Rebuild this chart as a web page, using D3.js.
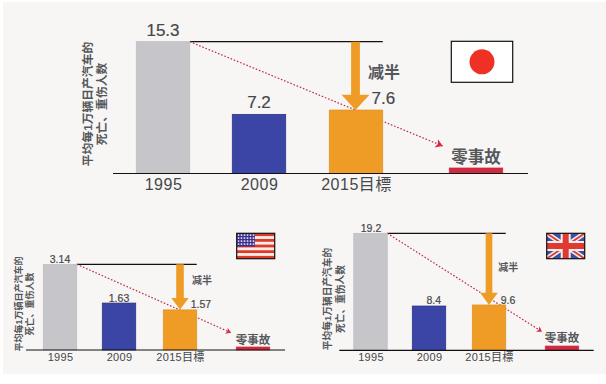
<!DOCTYPE html>
<html>
<head>
<meta charset="utf-8">
<script src="https://cdn.jsdelivr.net/npm/d3@7"></script>
<style>
html,body{margin:0;padding:0;background:#fff;}
svg{display:block;}
text{font-family:"Liberation Sans","Noto Sans CJK SC",sans-serif;}
</style>
</head>
<body>
<div id="chart"></div>
<script>
var categories = ["1995","2009","2015目標","零事故"];

// printed numbers
var jpLabels = ["15.3","7.2","7.6"];
var usLabels = ["3.14","1.63","1.57"];
var ukLabels = ["19.2","8.4","9.6"];

// bar heights (the original bars are not quite to scale)
var jpBars = [15.3,6.87,7.37,0.64];
var usBars = [3.14,1.72,1.47,0.11];
var ukBars = [19.2,7.27,7.44,0.7];

var yTitle1 = "平均每1万辆日产汽车的";
var yTitle2 = "死亡、重伤人数";
var halfText = "减半";

var colors = ["#c6c6ca","#3a45a6","#ef9c26","#d02a40"];
var strokes = ["#bcbcc0","#2a2f80","#e0912a","#d02a40"];
var textColor = "#45474b";
var softText = "#55575b";

var svg = d3.select("#chart").append("svg").attr("width",606).attr("height",384);

// page tint stops short of the left and bottom edges
svg.append("rect").attr("x",3).attr("y",2).attr("width",603).attr("height",372).attr("fill","#f7f6f4");

function drawPanel(p){
    var g = svg.append("g");
    var x = d3.scaleOrdinal().domain(categories).range(p.centers);
    var y = d3.scaleLinear().domain([0,p.bars[0]]).range([p.base,p.top]);
    var barLeft = function(d){return x(d)-p.barW/2;};

    // top reference line
    g.append("line").attr("x1",x(categories[0])+p.barW/2).attr("x2",x(categories[2])+p.barW/2)
        .attr("y1",p.top).attr("y2",p.top).attr("stroke","#111").attr("stroke-width",1.2);

    // dotted trend line, goes behind the bars
    g.append("line").attr("x1",x(categories[0])+p.barW/2).attr("y1",p.top)
        .attr("x2",p.trendEnd[0]).attr("y2",p.trendEnd[1])
        .attr("stroke","#c0284f").attr("stroke-width",1.2).attr("stroke-dasharray","1.6 1.8");
    var ang = Math.atan2(p.trendEnd[1]-p.top,p.trendEnd[0]-(x(categories[0])+p.barW/2))*180/Math.PI;
    var h = p.headSize;
    g.append("path").attr("d","M0,0L"+(-h)+","+(-h*0.65)+"L"+(-h*0.75)+",0L"+(-h)+","+(h*0.65)+"Z")
        .attr("transform","translate("+p.trendEnd[0]+","+p.trendEnd[1]+") rotate("+ang+")")
        .attr("fill","#d62a45");

    g.selectAll("rect.bar").data(categories).enter().append("rect")
        .attr("class","bar")
        .attr("x",barLeft)
        .attr("width",p.barW)
        .attr("y",function(d,i){return y(p.bars[i]);})
        .attr("height",function(d,i){return p.base-y(p.bars[i]);})
        .attr("fill",function(d,i){return colors[i];})
        .attr("stroke",function(d,i){return strokes[i];})
        .attr("stroke-width",0.7);

    // big "half" arrow
    var a = p.arrow;
    var cx = x(categories[2])+a.dx;
    var line = d3.line();
    g.append("path").attr("d",line([[cx-a.shaft/2,p.top],[cx+a.shaft/2,p.top],[cx+a.shaft/2,a.neck],
        [cx+a.head/2,a.neck],[cx,a.tip],[cx-a.head/2,a.neck],[cx-a.shaft/2,a.neck]])+"Z")
        .attr("fill",colors[2]);

    // baseline and tick labels
    g.append("line").attr("x1",p.axis[0]).attr("x2",p.axis[1]).attr("y1",p.base).attr("y2",p.base)
        .attr("stroke","#111").attr("stroke-width",1.2);
    var axis = d3.axisBottom(x).tickValues(categories.slice(0,3)).tickSize(0).tickPadding(p.tickPad);
    var ag = g.append("g").attr("transform","translate(0,"+p.base+")").call(axis);
    ag.select(".domain").remove();
    ag.selectAll("text").style("font-size",p.tickSize+"px").style("font-family",'"Liberation Sans","Noto Sans CJK SC",sans-serif')
        .style("letter-spacing",p.tickSpacing+"px").attr("fill",textColor);

    // value labels
    g.selectAll("text.val").data(p.labels).enter().append("text")
        .attr("class","val")
        .attr("x",function(d,i){return p.valPos[i][0];})
        .attr("y",function(d,i){return p.valPos[i][1];})
        .attr("text-anchor",function(d,i){return i==2?"start":"middle";})
        .attr("font-size",p.valSize).attr("fill",textColor)
        .attr("stroke",textColor).attr("stroke-width",0.2)
        .text(function(d){return d;});

    g.append("text").attr("x",p.halfPos[0]).attr("y",p.halfPos[1]).attr("font-size",p.halfSize)
        .attr("font-weight",700).attr("fill",softText).text(halfText);

    g.append("text").attr("x",x(categories[3])).attr("y",p.zeroY).attr("text-anchor","middle")
        .attr("font-size",p.zeroSize).attr("font-weight",700).attr("fill",softText).text(categories[3]);

    // rotated y title, two lines
    [yTitle1,yTitle2].forEach(function(t,i){
        g.append("text").attr("transform","translate("+p.titleX[i]+","+p.titleY+") rotate(-90)")
            .attr("text-anchor","middle").attr("font-size",p.titleSize).attr("font-weight",700)
            .attr("fill",softText).text(t);
    });
}

function flagBox(b){
    return svg.append("svg").attr("x",b[0]).attr("y",b[1]).attr("width",b[2]).attr("height",b[3])
        .attr("viewBox","0 0 "+b[2]+" "+b[3]);
}
function flagFrame(b){
    svg.append("rect").attr("x",b[0]).attr("y",b[1]).attr("width",b[2]).attr("height",b[3])
        .attr("fill","none").attr("stroke","#111").attr("stroke-width",1.2);
}

function japanFlag(b){
    var f = flagBox(b);
    f.append("rect").attr("width",b[2]).attr("height",b[3]).attr("fill","#fff");
    f.append("circle").attr("cx",b[2]/2).attr("cy",b[3]/2).attr("r",12.5).attr("fill","#ee3124");
    flagFrame(b);
}

function usFlag(b){
    var f = flagBox(b);
    var sy = d3.scaleBand().domain(d3.range(9)).range([0,b[3]]);
    f.append("rect").attr("width",b[2]).attr("height",b[3]).attr("fill","#fbeee8");
    f.selectAll("rect.s").data(d3.range(0,9,2)).enter().append("rect").attr("class","s")
        .attr("y",function(d){return sy(d);}).attr("width",b[2]).attr("height",sy.bandwidth())
        .attr("fill","#dd3a2c");
    var w = b[2]*0.48, h = b[3]*0.52;
    f.append("rect").attr("width",w).attr("height",h).attr("fill","#3a2f8f");
    d3.range(4).forEach(function(r){
        d3.range(6).forEach(function(c){
            f.append("rect").attr("x",1+c*3).attr("y",1+r*3).attr("width",1.6).attr("height",1.6).attr("fill","#e9e4f2");
        });
    });
    flagFrame(b);
}

function ukFlag(b){
    var f = flagBox(b);
    var W = b[2], H = b[3];
    f.append("rect").attr("width",W).attr("height",H).attr("fill","#3c4fa8");
    [[0,0,W,H],[W,0,0,H]].forEach(function(c){
        f.append("line").attr("x1",c[0]).attr("y1",c[1]).attr("x2",c[2]).attr("y2",c[3]).attr("stroke","#f3ecec").attr("stroke-width",5);
        f.append("line").attr("x1",c[0]).attr("y1",c[1]).attr("x2",c[2]).attr("y2",c[3]).attr("stroke","#e0392f").attr("stroke-width",1.8);
    });
    f.append("rect").attr("x",W/2-5).attr("width",10).attr("height",H).attr("fill","#f3ecec");
    f.append("rect").attr("y",H/2-5).attr("width",W).attr("height",10).attr("fill","#f3ecec");
    f.append("rect").attr("x",W/2-3).attr("width",6).attr("height",H).attr("fill","#e0392f");
    f.append("rect").attr("y",H/2-3).attr("width",W).attr("height",6).attr("fill","#e0392f");
    flagFrame(b);
}

drawPanel({
    bars:jpBars, labels:jpLabels, base:173.5, top:41.7, axis:[113,528],
    centers:[163,259,356,476], barW:53.5,
    trendEnd:[442.7,146], headSize:7,
    arrow:{dx:-0.5,shaft:8.8,head:28,neck:94.7,tip:110},
    valPos:[[163,35.7],[259,108],[371.5,103.5]], valSize:17,
    tickPad:5.5, tickSize:16, tickSpacing:0.5,
    halfPos:[368,78], halfSize:16,
    zeroY:163, zeroSize:16.5,
    titleX:[92,106], titleY:104, titleSize:11.8
});
japanFlag([451.3,41.3,61.4,41]);

drawPanel({
    bars:usBars, labels:usLabels, base:350, top:264.3, axis:[26,285],
    centers:[60,119,180,253], barW:33.5,
    trendEnd:[231,332.7], headSize:5,
    arrow:{dx:0,shaft:7.6,head:17.5,neck:298,tip:309.5},
    valPos:[[60,262.5],[119,301.7],[190.7,308]], valSize:10.5,
    tickPad:3.5, tickSize:11, tickSpacing:0.3,
    halfPos:[192,284], halfSize:10,
    zeroY:344, zeroSize:11.5,
    titleX:[21.5,33], titleY:304, titleSize:9
});
usFlag([236.7,233.3,38,25.4]);

drawPanel({
    bars:ukBars, labels:ukLabels, base:350.3, top:233.3, axis:[339.3,593.7],
    centers:[370.5,429,489,562], barW:33.5,
    trendEnd:[542,331.7], headSize:5,
    arrow:{dx:0,shaft:6.7,head:17.7,neck:292.7,tip:305},
    valPos:[[371,231.7],[433.7,304.3],[500.7,303.7]], valSize:10.5,
    tickPad:3, tickSize:11, tickSpacing:0.3,
    halfPos:[498.3,271], halfSize:10,
    zeroY:341.7, zeroSize:11.5,
    titleX:[331,343.5], titleY:299, titleSize:9.7
});
ukFlag([546.7,233.3,38,25.4]);
</script>
</body>
</html>
